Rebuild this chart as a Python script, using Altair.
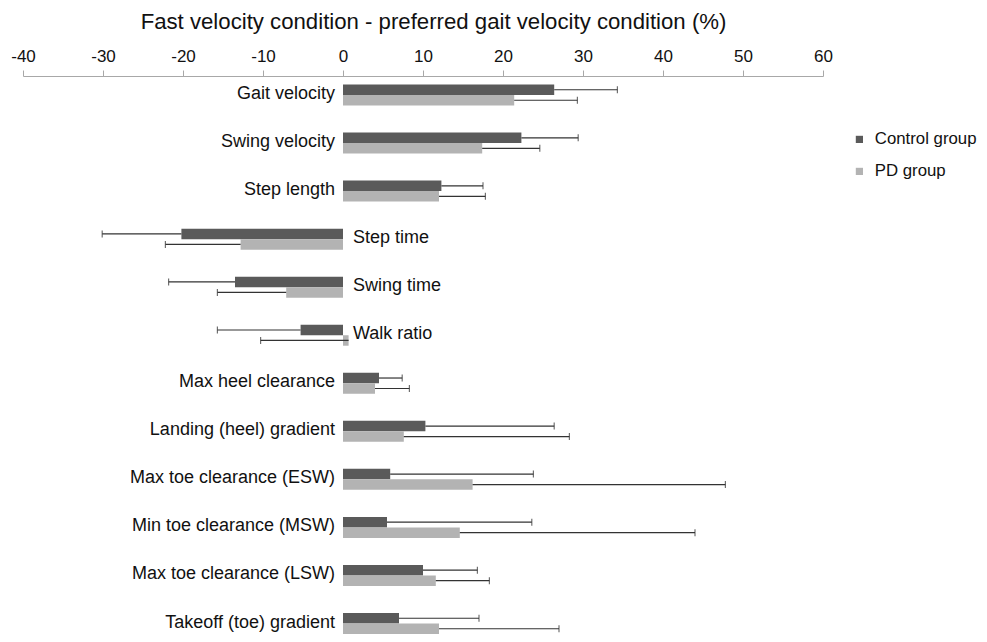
import altair as alt
import pandas as pd

categories = [
    "Gait velocity", "Swing velocity", "Step length", "Step time", "Swing time",
    "Walk ratio", "Max heel clearance", "Landing (heel) gradient",
    "Max toe clearance (ESW)", "Min toe clearance (MSW)",
    "Max toe clearance (LSW)", "Takeoff (toe) gradient",
]
control_mean = [26.4, 22.3, 12.3, -20.2, -13.5, -5.3, 4.5, 10.3, 5.9, 5.5, 10.0, 7.0]
control_err_end = [34.3, 29.4, 17.5, -30.1, -21.8, -15.7, 7.4, 26.4, 23.8, 23.6, 16.8, 17.0]
pd_mean = [21.4, 17.4, 12.0, -12.8, -7.1, 0.7, 4.0, 7.6, 16.2, 14.6, 11.6, 12.0]
pd_err_end = [29.3, 24.6, 17.8, -22.2, -15.7, -10.3, 8.3, 28.3, 47.8, 44.0, 18.3, 27.0]
groups = ["Control group", "PD group"]
group_colors = ["#5a5a5a", "#b3b3b3"]
x_ticks = [-40, -30, -20, -10, 0, 10, 20, 30, 40, 50, 60]
x_title = "Fast velocity condition - preferred gait velocity condition (%)"

rows = []
for i, c in enumerate(categories):
    rows.append(dict(category=c, group=groups[0], value=control_mean[i], err_end=control_err_end[i]))
    rows.append(dict(category=c, group=groups[1], value=pd_mean[i], err_end=pd_err_end[i]))
df = pd.DataFrame(rows)
lab = pd.DataFrame({"category": categories, "control": control_mean})

FONT = "Liberation Sans"

xscale = alt.Scale(domain=[-40, 60], nice=False, zero=False)
yscale = alt.Scale(domain=categories, paddingInner=0.563, paddingOuter=0.0884, align=1)
yoff_scale = alt.Scale(domain=groups, paddingInner=0, paddingOuter=0)

x_axis = alt.Axis(
    orient="top", values=x_ticks, grid=False, title=x_title,
    labelExpr="'' + datum.value", labelFlush=False,
    labelFont=FONT, labelFontSize=17, labelColor="#111111", labelPadding=5,
    tickSize=6, tickColor="#a8a8a8", domainColor="#a8a8a8", tickWidth=1, domainWidth=1,
    titleFont=FONT, titleFontSize=22.2, titleFontWeight="normal", titleColor="#111111",
    titleX=410, titleY=-47.8, titleAlign="center", titleBaseline="alphabetic",
)

base = alt.Chart(df)

bars = base.mark_bar().encode(
    x=alt.X("value:Q", scale=xscale, axis=x_axis),
    y=alt.Y("category:N", scale=yscale, axis=None, sort=categories),
    yOffset=alt.YOffset("group:N", scale=yoff_scale, sort=groups),
    color=alt.Color("group:N", scale=alt.Scale(domain=groups, range=group_colors),
                    legend=alt.Legend(title=None, orient="none", legendX=828, legendY=55,
                                      symbolType="square", symbolSize=52, symbolStrokeWidth=0,
                                      labelFont=FONT, labelFontSize=16.8, labelColor="#111111",
                                      labelOffset=7, rowPadding=14)),
)

err = base.mark_rule(color="#333333", strokeWidth=1.2).encode(
    x=alt.X("value:Q", scale=xscale),
    x2="err_end:Q",
    y=alt.Y("category:N", scale=yscale, sort=categories),
    yOffset=alt.YOffset("group:N", scale=yoff_scale, sort=groups),
)

caps = base.mark_tick(color="#333333", thickness=1.2, size=7, orient="vertical").encode(
    x=alt.X("err_end:Q", scale=xscale),
    y=alt.Y("category:N", scale=yscale, sort=categories),
    yOffset=alt.YOffset("group:N", scale=yoff_scale, sort=groups),
)

lab_base = alt.Chart(lab)
labels_left = lab_base.transform_filter("datum.control >= 0").mark_text(
    align="right", baseline="middle", dx=-8, dy=-1, font=FONT, fontSize=18, color="#111111"
).encode(
    x=alt.datum(0),
    y=alt.Y("category:N", scale=yscale, sort=categories),
    text="category:N",
)
labels_right = lab_base.transform_filter("datum.control < 0").mark_text(
    align="left", baseline="middle", dx=10, dy=-1, font=FONT, fontSize=18, color="#111111"
).encode(
    x=alt.datum(0),
    y=alt.Y("category:N", scale=yscale, sort=categories),
    text="category:N",
)

chart = alt.layer(bars, err, caps, labels_left, labels_right).properties(
    width=800, height=558,
    autosize=alt.AutoSizeParams(type="none"),
    padding={"left": 15, "top": 68, "right": 156, "bottom": 0},
    background="white",
).configure_view(stroke=None)

chart.save("out.html", embed_options={"renderer": "svg", "actions": False})
